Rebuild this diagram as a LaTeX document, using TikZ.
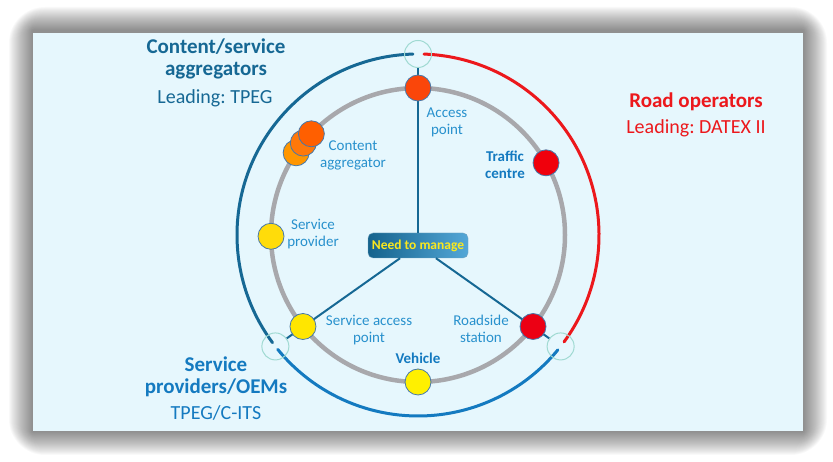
\documentclass[tikz,border=0pt]{standalone}
\usepackage{fontspec}
\setmainfont{Carlito}
\frenchspacing
\usetikzlibrary{calc}

\definecolor{panel}{RGB}{230,247,253}
\definecolor{darkteal}{RGB}{22,104,148}
\definecolor{midblue}{RGB}{40,145,205}
\definecolor{deepblue}{RGB}{20,122,192}
\definecolor{roadred}{RGB}{236,24,28}
\definecolor{ringgrey}{RGB}{168,168,172}
\definecolor{junction}{RGB}{160,218,210}
\definecolor{staline}{RGB}{70,120,170}
\definecolor{hubyellow}{RGB}{250,232,30}

\tikzset{
  sta/.style={circle, draw=staline, line width=0.8pt, minimum size=26pt, inner sep=0pt},
  junc/.style={circle, draw=junction, line width=1pt, minimum size=27pt, inner sep=0pt},
  hubbox/.style={rounded corners=5pt, minimum width=100pt, minimum height=25pt, inner sep=2pt,
    left color=darkteal!95!black, right color=midblue!80!white, draw=darkteal!60,
    text=hubyellow, font=\bfseries\fontsize{13.5}{15}\selectfont},
  lbl/.style={text=midblue, align=center, font=\fontsize{15}{17}\selectfont},
  blbl/.style={lbl, text=deepblue, font=\bfseries\fontsize{15}{17}\selectfont},
  head/.style={align=center, font=\bfseries\fontsize{21}{22}\selectfont},
  sub/.style={font=\fontsize{20}{22}\selectfont},
  spoke/.style={draw=darkteal, line width=2pt},
  ring/.style={line width=3pt, line cap=round},
}

\begin{document}
\begin{tikzpicture}[x=1pt,y=1pt]
  \useasboundingbox (0,0) rectangle (833,462);
  % shadow and panel
  \foreach \i in {1,...,24}
  {
    \fill[black, opacity=0.025, rounded corners=1.5*\i pt] ($(33,31)-(\i,\i)$) rectangle ($(803,431)+(\i,\i)$);
  }
  \fill[panel] (33,31) rectangle (803,429);
  \coordinate (O) at (418,227);
  % rings
  \draw[ringgrey, line width=4.5pt] (O) circle (147pt);
  \draw[ring, darkteal] ($(O)+(91.6:181pt)$) arc[start angle=91.6, end angle=216.5, radius=181pt];
  \draw[ring, deepblue] ($(O)+(219.2:181pt)$) arc[start angle=219.2, end angle=320.6, radius=181pt];
  \draw[ring, roadred] ($(O)+(-36.2:181pt)$) arc[start angle=-36.2, end angle=88.1, radius=181pt];
  \node[junc] (jt) at ($(O)+(90:181pt)$) {};
  \node[junc] (jl) at ($(O)+(218:181pt)$) {};
  \node[junc] (jr) at ($(O)+(-38:181pt)$) {};
  % hub and spokes
  \node[hubbox] (hub) at (418,216.5) {Need to manage};
  \draw[spoke] (hub) -- (jt);
  \draw[spoke] (hub) -- (jl);
  \draw[spoke] (hub) -- (jr);
  % stations
  \node[sta, fill={rgb,255:red,250;green,70;blue,10}] (ap) at ($(O)+(90:147pt)$) {};
  \node[sta, fill={rgb,255:red,240;green,0;blue,12}] (tc) at ($(O)+(29.4:147pt)$) {};
  \node[sta, fill={rgb,255:red,236;green,0;blue,20}] (rs) at ($(O)+(-38.5:147pt)$) {};
  \node[sta, fill={rgb,255:red,255;green,240;blue,0}] (vh) at ($(O)+(-90:147pt)$) {};
  \node[sta, fill={rgb,255:red,255;green,230;blue,0}] (sap) at ($(O)+(-141.5:147pt)$) {};
  \node[sta, fill={rgb,255:red,255;green,220;blue,10}] (sp) at ($(O)+(180.5:147pt)$) {};
  \node[sta, fill={rgb,255:red,255;green,150;blue,0}] (ca1) at ($(O)+(146:147pt)$) {};
  \node[sta, fill={rgb,255:red,255;green,120;blue,10}] (ca2) at ($(O)+(141.3:147pt)$) {};
  \node[sta, fill={rgb,255:red,255;green,95;blue,0}] (ca3) at ($(O)+(136.5:147pt)$) {};
  % station labels
  \node[lbl] (aplbl) at (447,340) {Access\\point};
  \node[lbl] (calbl) at (353,307) {Content\\aggregator};
  \node[lbl] (splbl) at (313,228) {Service\\provider};
  \node[blbl] (tclbl) at (505,297) {Traffic\\centre};
  \node[lbl] (rslbl) at (481,133) {Roadside\\station};
  \node[blbl] (vhlbl) at (418,104) {Vehicle};
  \node[lbl] (saplbl) at (369,132) {Service access\\point};
  % stakeholders
  \node[head, text=darkteal] (cshead) at (216,403) {Content/service\\aggregators};
  \node[sub, text=darkteal] (cssub) at (215,364) {Leading: TPEG};
  \node[head, text=roadred] (rohead) at (696,360) {Road operators};
  \node[sub, text=roadred] (rosub) at (696,334) {Leading: DATEX II};
  \node[head, text=deepblue] (sphead) at (216,85) {Service\\providers/OEMs};
  \node[sub, text=deepblue] (spsub) at (216,49) {TPEG/C-ITS};
\end{tikzpicture}
\end{document}
